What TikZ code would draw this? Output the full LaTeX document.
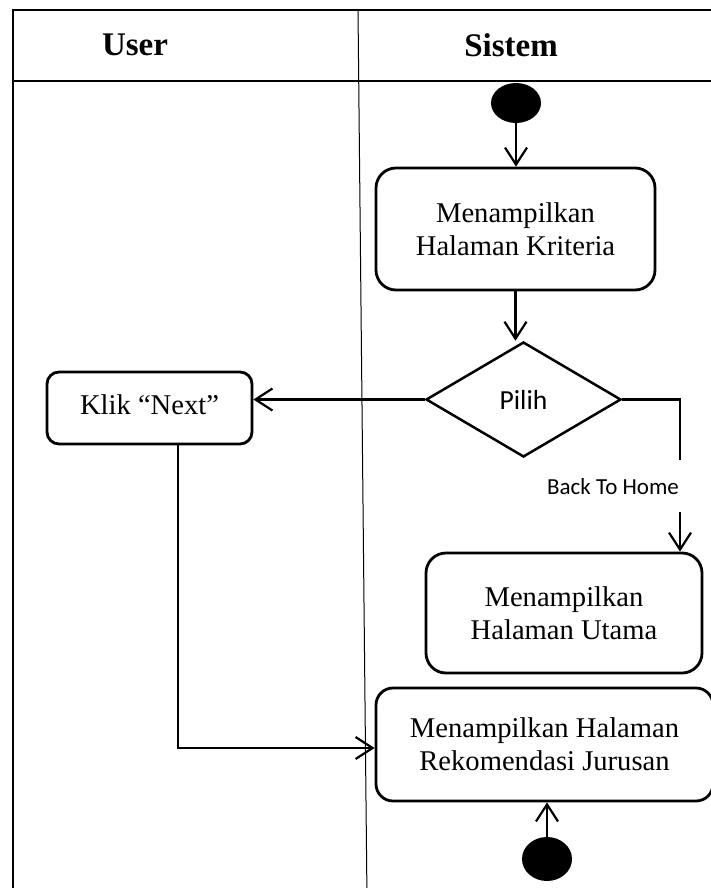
\documentclass[tikz,border=0pt]{standalone}
\usepackage{fontspec}
\setmainfont{Liberation Serif}
\newfontfamily\labelfont{Carlito}
\usetikzlibrary{shapes.geometric,arrows.meta}

\begin{document}
\begin{tikzpicture}[x=0.5pt,y=-0.5pt,
  act/.style={draw, line width=1.4pt, rounded corners=10pt, align=center,
    inner sep=0pt, font=\fontsize{14.3}{16.5}\selectfont},
  decision/.style={draw, diamond, line width=1.25pt, inner sep=0pt,
    minimum width=97.5pt, minimum height=57.5pt,
    font=\labelfont\fontsize{13.8}{16}\selectfont},
  dot/.style={ellipse, fill=black, inner sep=0pt},
  lane/.style={font=\bfseries\fontsize{16.5}{19}\selectfont},
  conn/.style={line width=1.1pt},
  flow/.style={conn, -{Straight Barb[length=8.5pt,width=11pt]}}
]
\useasboundingbox (0,0) rectangle (711,888);
\clip (0,0) rectangle (711,888);

% swimlane frame
\draw[line width=1.35pt] (13,900) -- (13,10);
\draw[line width=1pt] (12,10) -- (720,10);
\draw[line width=0.65pt] (13,81) -- (720,81);
\draw[line width=0.5pt] (358,10) -- (367,900);
\node[lane] (user) at (135,45) {User};
\node[lane] (sistem) at (511,45) {Sistem};

% activities
\node[dot, minimum width=25pt, minimum height=20pt] (start) at (516,103) {};
\node[act, minimum width=139.5pt, minimum height=61pt] (crit) at (515.5,229)
  {Menampilkan\\Halaman Kriteria};
\node[decision] (pilih) at (523.5,399.5) {\raisebox{-0.4ex}{Pilih}};
\node[act, rounded corners=6pt, minimum width=102.5pt, minimum height=36pt]
  (klik) at (149.5,408) {\raisebox{0.5ex}{Klik “Next”}};
\node[act, minimum width=138pt, minimum height=60pt] (home) at (564,613)
  {Menampilkan\\Halaman Utama};
\node[act, rounded corners=8.5pt, minimum width=168.5pt, minimum height=56.5pt]
  (rec) at (544.5,744.5) {Menampilkan Halaman\\Rekomendasi Jurusan};
\node[dot, minimum width=25pt, minimum height=22pt] (end) at (547,859) {};
\node[font=\labelfont\fontsize{11.5}{13}\selectfont] (back) at (613,487)
  {Back To Home};

% helper points for the routed connectors
\coordinate (kdown) at (178,748);
\coordinate (bturn) at (680,399.5);
\coordinate (bgap1) at (680,460);
\coordinate (bgap2) at (680,512);

% connectors
\draw[flow] (start.south) -- (start.south |- crit.north);
\draw[flow] (crit.south) -- (crit.south |- pilih.north);
\draw[flow] (pilih.west) -- (pilih.west -| klik.east);
\draw[flow] (klik.south -| kdown) -- (kdown) -- (kdown -| rec.west);
\draw[conn] (pilih.east) -- (bturn) -- (bgap1);
\draw[flow] (bgap2) -- (bgap2 |- home.north);
\draw[flow] (end.north) -- (end.north |- rec.south);
\end{tikzpicture}
\end{document}
